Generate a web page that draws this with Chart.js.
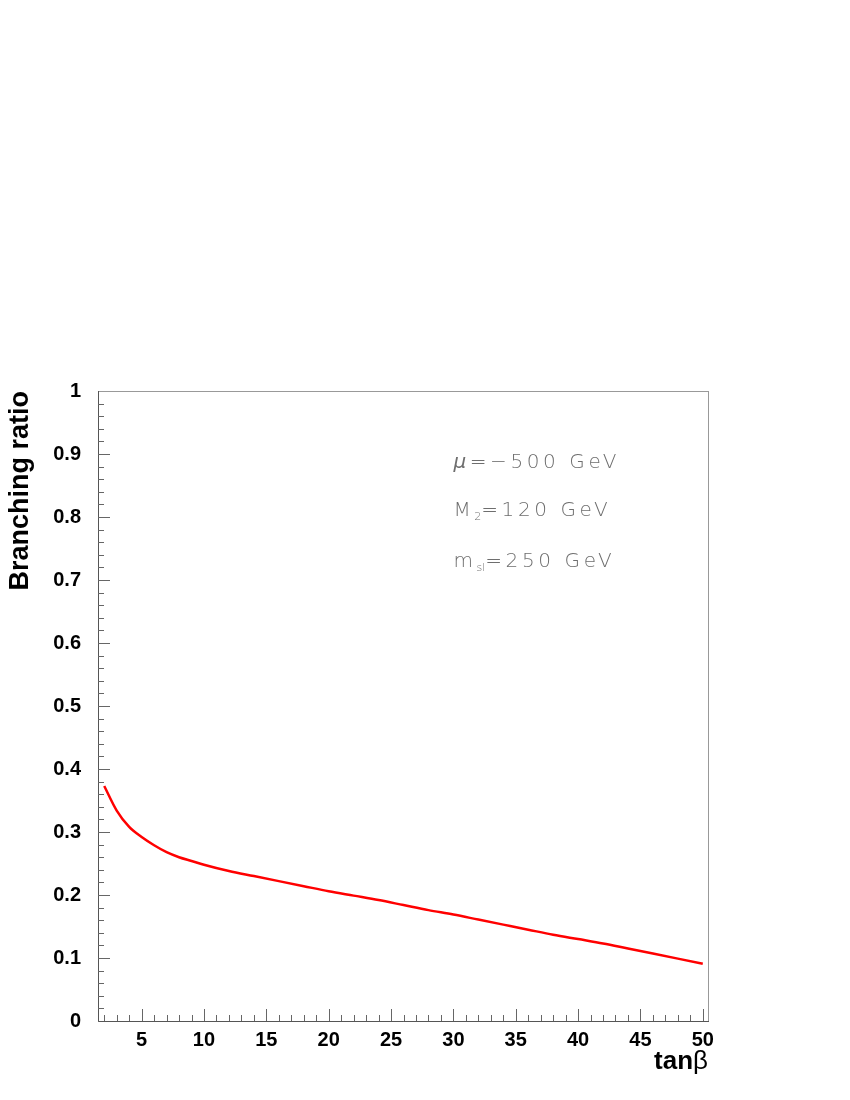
<!DOCTYPE html>
<html>
<head>
<meta charset="utf-8">
<script src="https://cdn.jsdelivr.net/npm/chart.js@4"></script>
<style>
  html, body { margin: 0; padding: 0; background: #fff; }
  #wrap { width: 850px; height: 1100px; }
</style>
</head>
<body>
<div id="wrap"><canvas id="chart" width="850" height="1100"></canvas></div>
<script>
// tanβ values and branching ratio
const tanBeta = [2, 3, 4, 5, 6, 7, 8, 9, 10, 12, 14, 16, 18, 20, 22, 24, 26, 28, 30, 32, 34, 36, 38, 40, 42, 44, 46, 48, 50];
const branchingRatio = [0.373, 0.334, 0.308, 0.292, 0.279, 0.268, 0.260, 0.254, 0.248, 0.238, 0.230, 0.222, 0.214, 0.206, 0.199, 0.192, 0.184, 0.176, 0.169, 0.161, 0.153, 0.145, 0.137, 0.130, 0.123, 0.115, 0.107, 0.099, 0.091];

const xTicks = [5, 10, 15, 20, 25, 30, 35, 40, 45, 50];
const yTicks = [0, 0.1, 0.2, 0.3, 0.4, 0.5, 0.6, 0.7, 0.8, 0.9, 1];

const boldFont = "'Liberation Sans', Arial, sans-serif";
const thinFont = "'DejaVu Sans', sans-serif";

// 刻度朝內 + 外框 + 參數文字
const rootStyle = {
  id: "rootStyle",
  afterDraw(chart) {
    const { ctx, chartArea: a, scales: { x, y } } = chart;
    ctx.save();
    ctx.lineWidth = 1;
    ctx.strokeStyle = "#999";
    ctx.strokeRect(a.left + 0.5, a.top + 0.5, a.right - a.left - 1, a.bottom - a.top);
    ctx.strokeStyle = "#555";
    ctx.beginPath();
    ctx.moveTo(a.left + 0.5, a.top);
    ctx.lineTo(a.left + 0.5, a.bottom + 0.5);
    ctx.lineTo(a.right, a.bottom + 0.5);
    ctx.stroke();

    ctx.strokeStyle = "#666";
    ctx.beginPath();
    for (let v = 2; v <= 50; v++) {
      const px = Math.round(x.getPixelForValue(v)) + 0.5;
      const len = v % 5 === 0 ? 12 : 6;
      ctx.moveTo(px, a.bottom);
      ctx.lineTo(px, a.bottom - len);
    }
    for (let i = 1; i < 50; i++) {
      const py = Math.round(y.getPixelForValue(i * 0.02)) + 0.5;
      const len = i % 5 === 0 ? 12 : 6;
      ctx.moveTo(a.left, py);
      ctx.lineTo(a.left + len, py);
    }
    ctx.stroke();

    // x 軸標題 tanβ
    ctx.fillStyle = "#000";
    ctx.textBaseline = "alphabetic";
    ctx.font = "26px " + boldFont;
    const betaW = ctx.measureText("β").width;
    ctx.textAlign = "right";
    ctx.fillText("β", a.right - 1, a.bottom + 48);
    ctx.font = "bold 26px " + boldFont;
    ctx.fillText("tan", a.right - 1 - betaW, a.bottom + 48);
    ctx.textAlign = "left";

    ctx.fillStyle = "#6e6e6e";
    const tx = x.getPixelForValue(30);
    const draw = (parts, bx, by) => {
      let cx = bx;
      parts.forEach(([t, size, dy, style]) => {
        ctx.font = (style || "200") + " " + size + "px " + thinFont;
        ctx.letterSpacing = size > 15 ? "3.6px" : "0px";
        ctx.fillText(t, cx, by + dy);
        cx += ctx.measureText(t).width;
      });
    };
    draw([["μ", 20, 0, "italic 200"], ["=−500 GeV", 20, 0]], tx, y.getPixelForValue(0.878));
    draw([["M", 20, 0], ["2", 11, 4], ["=120 GeV", 20, 0]], tx, y.getPixelForValue(0.801));
    draw([["m", 20, 0], ["sl", 11, 4], ["=250 GeV", 20, 0]], tx, y.getPixelForValue(0.720));
    ctx.restore();
  },
};

const ctx = document.getElementById("chart").getContext("2d");
new Chart(ctx, {
  type: "line",
  data: {
    datasets: [
      {
        data: tanBeta.map((t, i) => ({ x: t, y: branchingRatio[i] })),
        borderColor: "#ff0000",
        borderWidth: 2.5,
        pointRadius: 0,
        cubicInterpolationMode: "monotone",
        fill: false,
      },
    ],
  },
  options: {
    responsive: false,
    animation: false,
    devicePixelRatio: 1,
    layout: { padding: { left: 0, right: 141, top: 391, bottom: 20 } },
    plugins: { legend: { display: false }, tooltip: { enabled: false } },
    scales: {
      x: {
        type: "linear",
        min: 1.5,
        max: 50.5,
        afterBuildTicks: (s) => { s.ticks = xTicks.map((v) => ({ value: v })); },
        afterFit: (s) => { s.height = 59; },
        grid: { display: false, drawTicks: false },
        border: { display: false },
        ticks: { color: "#000", font: { family: boldFont, size: 20, weight: "bold" }, padding: 7, maxRotation: 0 },
      },
      y: {
        min: 0,
        max: 1,
        afterBuildTicks: (s) => { s.ticks = yTicks.map((v) => ({ value: v })); },
        afterFit: (s) => { s.width = 98; },
        grid: { display: false, drawTicks: false },
        border: { display: false },
        ticks: { color: "#000", font: { family: boldFont, size: 20, weight: "bold" }, padding: 17, callback: (v) => String(+v.toFixed(1)) },
        title: { display: true, text: "Branching ratio", align: "end", color: "#000", font: { family: boldFont, size: 27, weight: "bold" }, padding: { top: 4, bottom: 0 } },
      },
    },
  },
  plugins: [rootStyle],
});
</script>
</body>
</html>
